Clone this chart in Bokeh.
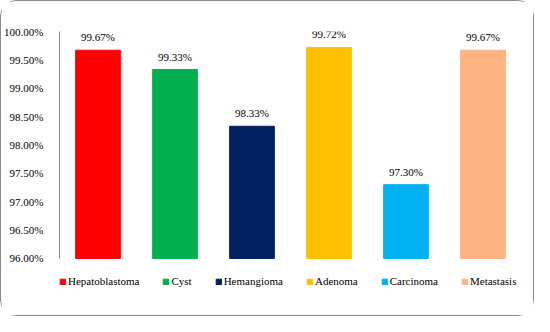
from bokeh.plotting import figure
from bokeh.models import ColumnDataSource, PrintfTickFormatter, FixedTicker, Legend, LegendItem, LabelSet, Range1d
from bokeh.embed import file_html
from bokeh.resources import INLINE

categories = ["Hepatoblastoma", "Cyst", "Hemangioma", "Adenoma", "Carcinoma", "Metastasis"]
values = [99.67, 99.33, 98.33, 99.72, 97.30, 99.67]
colors = ["#FF0000", "#00B050", "#002060", "#FFC000", "#00B0F0", "#FFB482"]
labels = ["99.67%", "99.33%", "98.33%", "99.72%", "97.30%", "99.67%"]
y_ticks = [96.0, 96.5, 97.0, 97.5, 98.0, 98.5, 99.0, 99.5, 100.0]
y_min, y_max = 96.0, 100.0

FONT = "serif"

src = ColumnDataSource(dict(cat=categories, val=values, col=colors, lab=labels))

p = figure(x_range=categories, y_range=Range1d(95.4, y_max), width=534, height=316,
           output_backend="svg", toolbar_location=None,
           min_border_left=52, min_border_right=14, min_border_top=30, min_border_bottom=25)
p.styles = {"border": "1.5px solid #8c8c8c", "border-radius": "16px"}
p.outline_line_color = None
p.xgrid.grid_line_color = None
p.ygrid.grid_line_color = None
p.xaxis.visible = False

r = p.vbar(x="cat", top="val", bottom=y_min, width=0.58, color="col", source=src)

p.yaxis.bounds = (y_min, y_max)
p.yaxis.ticker = FixedTicker(ticks=y_ticks)
p.yaxis.formatter = PrintfTickFormatter(format="%.2f%%")
p.yaxis.major_tick_line_color = None
p.yaxis.minor_tick_line_color = None
p.yaxis.axis_line_color = "#8c8c8c"
p.yaxis.major_label_text_font = FONT
p.yaxis.major_label_text_font_size = "11px"
p.yaxis.major_label_text_color = "black"
p.yaxis.major_label_standoff = 10

lab = LabelSet(x="cat", y="val", text="lab", source=src, text_align="center",
               text_baseline="bottom", y_offset=7, text_font=FONT,
               text_font_size="11px", text_color="black")
p.add_layout(lab)

items = [LegendItem(label=c, renderers=[r], index=i) for i, c in enumerate(categories)]
legend = Legend(items=items, orientation="horizontal", location=(0, 5),
                padding=0, margin=0, spacing=23, label_standoff=2,
                glyph_width=7, glyph_height=7, border_line_color=None,
                background_fill_alpha=0, label_text_font=FONT,
                label_text_font_size="11px", label_text_color="black",
                label_height=12)
p.add_layout(legend, "center")

open("out.html", "w").write(file_html(p, INLINE))
